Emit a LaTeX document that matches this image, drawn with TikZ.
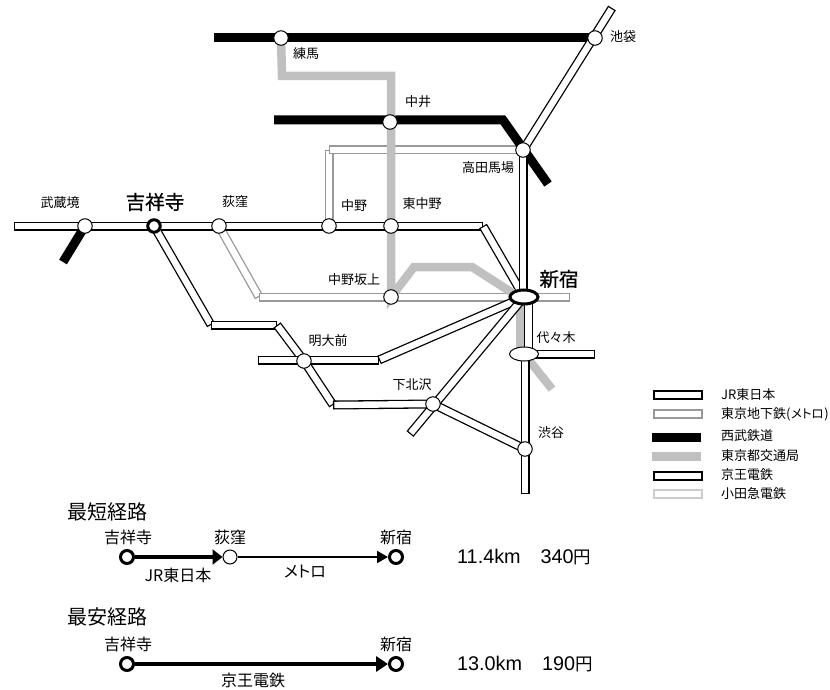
\documentclass[tikz,border=0pt]{standalone}
\usepackage{fontspec}
\setmainfont{Noto Sans CJK JP}
\newfontfamily\arialf{Liberation Sans}
\newfontfamily\strongf[FakeBold=0.7]{Noto Sans CJK JP}
\newfontfamily\paltf[RawFeature=+palt]{Noto Sans CJK JP}
\usetikzlibrary{arrows.meta}
\pgfdeclarelayer{bg}
\pgfsetlayers{bg,main}
\definecolor{metro}{HTML}{999999}
\definecolor{toei}{HTML}{C0C0C0}
\definecolor{odak}{HTML}{CCCCCC}
% cased segment: #1 colour, #2 and #3 ends
\newcommand{\casedseg}[3]{%
  \draw[#1,line width=9pt] (#2) -- (#3);
  \draw[white,line width=6.4pt,shorten <=1.3pt,shorten >=1.3pt] (#2) -- (#3);}
\newcommand{\fs}[1]{\fontsize{#1pt}{#1pt}\selectfont}
\tikzset{
  stn/.style={circle,draw=black,fill=white,line width=1pt,minimum size=14.5pt,inner sep=0pt},
  bigstn/.style={circle,draw=black,fill=white,line width=3pt,minimum size=12.5pt,inner sep=0pt},
  way/.style={inner sep=0pt,minimum size=0pt},
  lab/.style={inner sep=0pt,font=\fs{13}},
  biglab/.style={inner sep=0pt,font=\strongf\fs{19.5}},
  seibu/.style={line width=9pt,black},
  toeil/.style={line width=8.5pt,toei,line join=miter},
  leg/.style={inner sep=0pt,font=\fs{13},anchor=west},
  rlab/.style={inner sep=0pt,font=\fs{16}},
  head/.style={inner sep=0pt,font=\fs{20}},
  fare/.style={inner sep=0pt,font=\arialf\fs{19.8},anchor=west},
  pt/.style={circle,draw=black,fill=white,line width=3pt,minimum size=13pt,inner sep=0pt},
  legbox/.style={minimum width=48pt,minimum height=8pt,inner sep=0pt,fill=white,anchor=west}
}
\begin{document}
\begin{tikzpicture}[x=1pt,y=-1pt]
\useasboundingbox (0,0) rectangle (830,690);
% stations
\node[stn] (musashi) at (85,226) {};
\node[bigstn] (kichi) at (154,226) {};
\node[stn] (ogi) at (219,226) {};
\node[stn] (nakano) at (329,226) {};
\node[stn] (higashi) at (391,226) {};
\node[stn] (nakai) at (390,122) {};
\node[stn] (nerima) at (281,38) {};
\node[stn] (ike) at (595,38) {};
\node[stn] (taka) at (523,150) {};
\node[stn] (saka) at (391,297) {};
\node[stn] (mei) at (304,361) {};
\node[stn] (shimo) at (433,404) {};
\node[stn] (shibu) at (525,449) {};
\node[way] (shin) at (524,297) {};
\draw[black,fill=white,line width=3pt] (shin.center) circle [x radius=14pt,y radius=7pt];
\node[way] (yoyo) at (524,354) {};
\draw[black,fill=white,line width=1pt] (yoyo.center) circle [x radius=14.5pt,y radius=7pt];
% way points
\node[way] (cW) at (14,226) {};
\node[way] (cE) at (483,226) {};
\node[way] (ikeTop) at (612,8) {};
\node[way] (yamaBot) at (525,494) {};
\node[way] (yamaS) at (528.5,297) {};
\node[way] (yamaY) at (528.5,354) {};
\node[way] (yamaYs) at (525,354) {};
\node[way] (sobuE) at (595,354) {};
\node[way] (tn) at (523,297) {};
\node[way] (seA) at (214,38) {};
\node[way] (seB) at (274,120) {};
\node[way] (seC) at (503,120) {};
\node[way] (seD) at (548,184) {};
\node[way] (seE) at (63,262) {};
\node[way] (toA) at (282,76) {};
\node[way] (toB) at (391,76) {};
\node[way] (toC) at (414,267) {};
\node[way] (toD) at (472,267) {};
\node[way] (toE) at (514,294) {};
\node[way] (toF) at (520,297) {};
\node[way] (toG) at (520,354) {};
\node[way] (toH) at (552,389) {};
\node[way] (tzA) at (329,150) {};
\node[way] (maA) at (259,297) {};
\node[way] (maB) at (570,297) {};
\node[way] (inA) at (211,325) {};
\node[way] (inB) at (277,325) {};
\node[way] (inC) at (333,405) {};
\node[way] (kW) at (258,360) {};
\node[way] (kM) at (379,360) {};
\node[way] (oS) at (410,434) {};
% connectors
\begin{pgfonlayer}{bg}
  % metro
  \casedseg{metro}{nakano.center}{tzA.center}
  \casedseg{metro}{tzA.center}{taka.center}
  \casedseg{metro}{ogi.center}{maA.center}
  \casedseg{metro}{maA.center}{maB.center}
  % seibu
  \draw[seibu] (seA.center) -- (ike.center);
  \draw[seibu] (seB.center) -- (seC.center) -- (seD.center);
  \draw[seibu] (musashi.center) -- (seE.center);
  % Toei lower parts
  \draw[toeil] (toF.center) -- (toG.center);
  \draw[toeil] (yoyo.center) -- (toH.center);
  % JR
  \casedseg{black}{cW.center}{cE.center}
  \casedseg{black}{cE.center}{shin.center}
  \casedseg{black}{ikeTop.center}{taka.center}
  \casedseg{black}{taka.center}{tn.center}
  \casedseg{black}{yamaS.center}{yamaY.center}
  \casedseg{black}{yamaYs.center}{yamaBot.center}
  \casedseg{black}{yoyo.center}{sobuE.center}
  % Keio
  \casedseg{black}{kichi.center}{inA.center}
  \casedseg{black}{inA.center}{inB.center}
  \casedseg{black}{inB.center}{mei.center}
  \casedseg{black}{mei.center}{inC.center}
  \casedseg{black}{inC.center}{shimo.center}
  \casedseg{black}{shimo.center}{shibu.center}
  \casedseg{black}{kW.center}{kM.center}
  \casedseg{black}{kM.center}{shin.center}
  % Odakyu
  \casedseg{black}{oS.center}{shin.center}
  % Toei upper part
  \draw[toeil] (nerima.center) -- (toA.center) -- (toB.center) -- (saka.center) -- (toC.center) -- (toD.center) -- (toE.center);
\end{pgfonlayer}
% labels
\node[lab] (lmu) at (60,203) {武蔵境};
\node[biglab] (lki) at (155,202) {吉祥寺};
\node[lab] (log) at (235,202) {荻窪};
\node[lab] (lna) at (354,206) {中野};
\node[lab] (lhi) at (422,204) {東中野};
\node[lab] (lnk) at (418,102) {中井};
\node[lab] (lne) at (306,54) {練馬};
\node[lab] (lik) at (623,37) {池袋};
\node[lab] (lta) at (488,168) {高田馬場};
\node[lab] (lsk) at (354,280) {中野坂上};
\node[lab] (lme) at (328,341) {明大前};
\node[lab] (lyo) at (556,338) {代々木};
\node[lab] (lsh) at (412,385) {下北沢};
\node[lab] (lsb) at (551,433) {渋谷};
\node[biglab] (lsj) at (559,279) {新宿};
% legend
\node[legbox,draw=black,line width=1.5pt] (k1) at (653,395) {};
\node[legbox,draw=metro,line width=1.5pt] (k2) at (653,414) {};
\node[legbox,fill=black,minimum width=49pt,minimum height=9pt] (k3) at (652,437) {};
\node[legbox,fill=toei,minimum width=49pt,minimum height=9pt] (k4) at (652,456) {};
\node[legbox,draw=black,line width=2pt] (k5) at (653,476) {};
\node[legbox,draw=odak,line width=1.5pt] (k6) at (653,494) {};
\node[leg] (t1) at (721,395) {JR東日本};
\node[leg] (t2) at (721,414) {東京地下鉄(\hspace{0.5pt}{\paltf\fs{12.5}メトロ}\hspace{0.5pt})};
\node[leg] (t3) at (721,436) {西武鉄道};
\node[leg] (t4) at (721,456) {東京都交通局};
\node[leg] (t5) at (721,475) {京王電鉄};
\node[leg] (t6) at (721,494) {小田急電鉄};
% routes
\node[head,anchor=west] (h1) at (67,512) {最短経路};
\node[rlab] (a1) at (128,537) {吉祥寺};
\node[rlab] (a2) at (230,537) {荻窪};
\node[rlab] (a3) at (396,537) {新宿};
\node[pt] (p1) at (127,557) {};
\node[stn,minimum size=14pt] (p2) at (230,557) {};
\node[pt] (p3) at (396,557) {};
\draw[line width=4.2pt,-{Triangle[length=10pt,width=15pt]}] (p1) -- (p2);
\draw[line width=2pt,-{Triangle[length=11pt,width=12pt]}] (p2) -- (p3);
\node[rlab] (b1) at (178,575) {JR東日本};
\node[rlab,font=\paltf\fs{16}] (b2) at (305,572) {メトロ};
\node[fare] (f1) at (457,557) {11.4km\hspace{20pt}340{\rmfamily\fontsize{17.5pt}{17.5pt}\selectfont 円}};
\node[head,anchor=west] (h2) at (67,617) {最安経路};
\node[rlab] (c1) at (128,644) {吉祥寺};
\node[rlab] (c3) at (396,644) {新宿};
\node[pt] (q1) at (127,664) {};
\node[pt] (q3) at (396,664) {};
\draw[line width=3.6pt,-{Triangle[length=12pt,width=15pt]}] (q1) -- (q3);
\node[rlab] (d1) at (253,680) {京王電鉄};
\node[fare] (f2) at (457,664) {13.0km\hspace{20pt}190{\rmfamily\fontsize{17.5pt}{17.5pt}\selectfont 円}};
\end{tikzpicture}
\end{document}
